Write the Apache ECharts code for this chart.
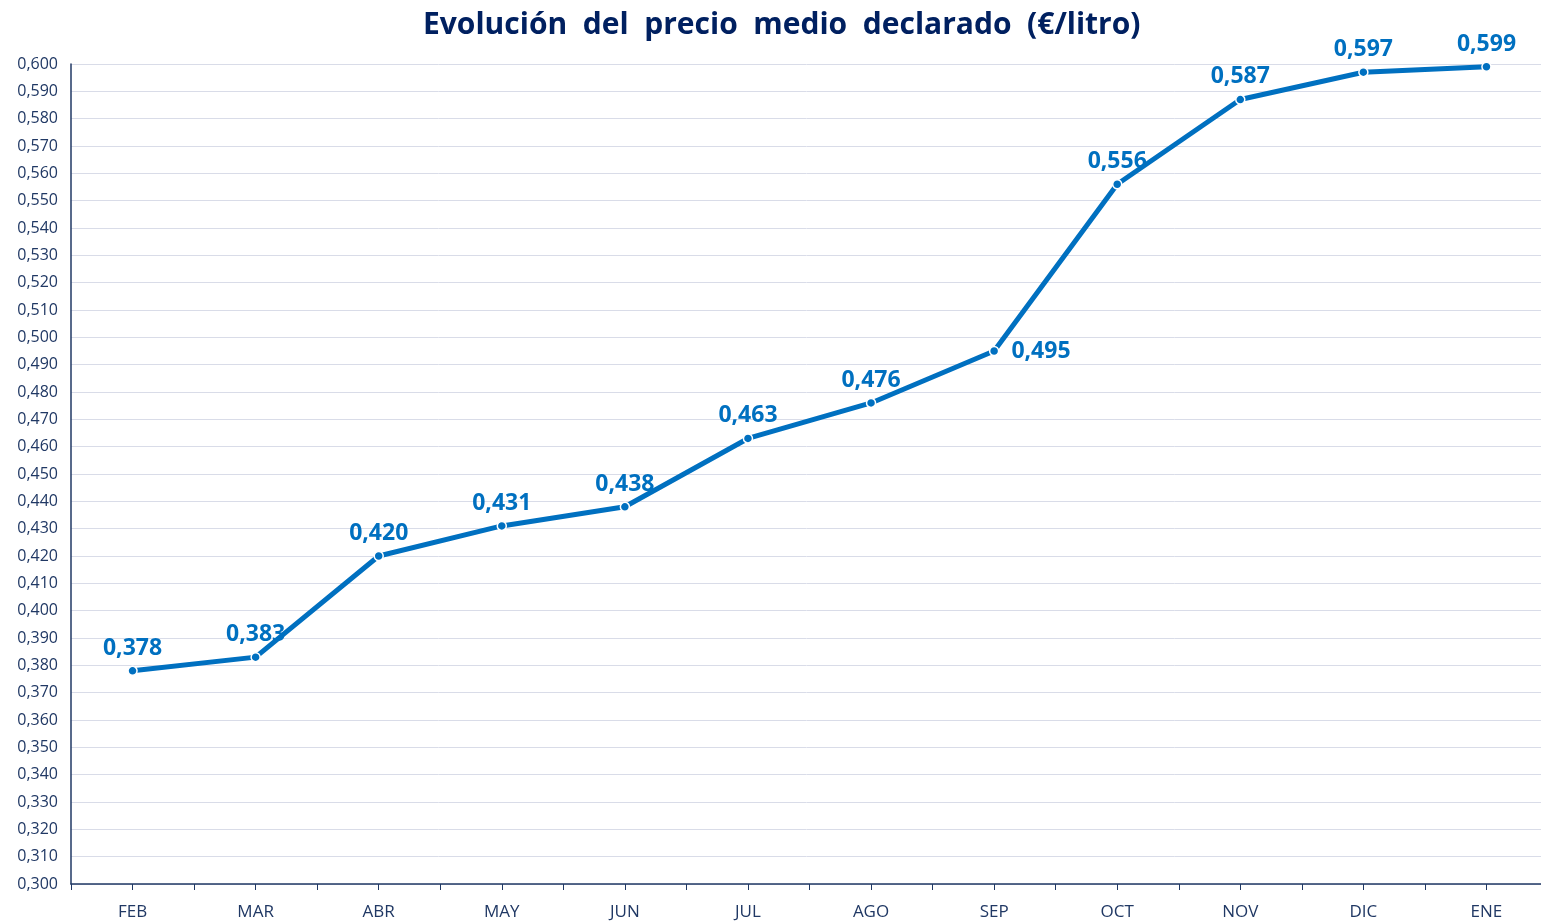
<!DOCTYPE html>
<html>
<head>
<meta charset="utf-8">
<script src="https://cdn.jsdelivr.net/npm/echarts@6/dist/echarts.min.js"></script>
<style>
  html, body { margin: 0; padding: 0; background: #fff; }
  #main { width: 1541px; height: 921px; }
</style>
</head>
<body>
<div id="main"></div>
<script>
// meses y precios medios (€/litro)
var meses = ['FEB', 'MAR', 'ABR', 'MAY', 'JUN', 'JUL', 'AGO', 'SEP', 'OCT', 'NOV', 'DIC', 'ENE'];
var precios = [0.378, 0.383, 0.420, 0.431, 0.438, 0.463, 0.476, 0.495, 0.556, 0.587, 0.597, 0.599];
// la etiqueta de SEP va a la derecha
var posEtiqueta = ['top', 'top', 'top', 'top', 'top', 'top', 'top', 'right', 'top', 'top', 'top', 'top'];

var navy = '#203864';
var azul = '#0070c0';

var myChart = echarts.init(document.getElementById('main'));

var datos = precios.map(function (v, i) {
  return {
    value: v,
    label: { position: posEtiqueta[i], distance: posEtiqueta[i] === 'right' ? 12 : 6 }
  };
});

myChart.setOption({
  animation: false,
  title: {
    text: 'Evolución  del  precio  medio  declarado  (€/litro)',
    left: 418,
    top: 5,
    textStyle: { fontFamily: 'Open Sans', fontWeight: 'bold', fontSize: 30, color: '#002060' }
  },
  // el gráfico original queda recortado por la derecha
  grid: { left: 71, width: 1477, top: 64, bottom: 37, outerBoundsMode: 'none' },
  xAxis: [{
    type: 'category',
    data: meses,
    boundaryGap: true,
    axisLine: { lineStyle: { color: navy, width: 1.5 } },
    axisTick: { show: true, length: 6, lineStyle: { color: navy } },
    axisLabel: { color: navy, fontFamily: 'Open Sans', fontSize: 17, margin: 20 }
  }, {
    type: 'category',
    data: meses,
    position: 'bottom',
    boundaryGap: true,
    axisLine: { show: false },
    axisTick: { show: true, alignWithLabel: true, length: 6, lineStyle: { color: navy } },
    axisLabel: { show: false }
  }],
  yAxis: {
    type: 'value',
    min: 0.3,
    max: 0.6,
    interval: 0.01,
    axisLine: { show: true, lineStyle: { color: navy, width: 1.5 } },
    axisTick: { show: false },
    splitLine: { lineStyle: { color: '#d9dce8', width: 1 } },
    axisLabel: {
      color: navy,
      fontFamily: 'Open Sans',
      fontSize: 16,
      margin: 13,
      formatter: function (v) { return v.toFixed(3).replace('.', ','); }
    }
  },
  series: [{
    type: 'line',
    data: datos,
    symbol: 'circle',
    symbolSize: 9,
    lineStyle: { color: azul, width: 5 },
    itemStyle: { color: azul, borderColor: '#fff', borderWidth: 1.5 },
    label: {
      show: true,
      color: azul,
      fontFamily: 'Open Sans',
      fontWeight: 'bold',
      fontSize: 23,
      formatter: function (p) { return p.value.toFixed(3).replace('.', ','); }
    }
  }]
});
</script>
</body>
</html>
